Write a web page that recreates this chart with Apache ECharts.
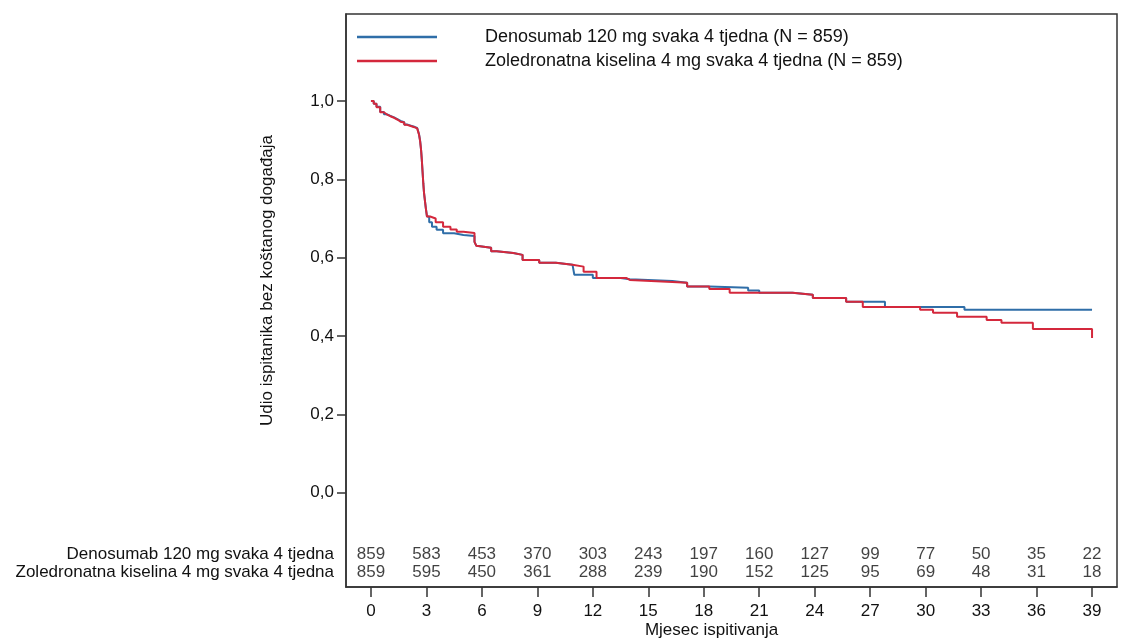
<!DOCTYPE html>
<html>
<head>
<meta charset="utf-8">
<script src="https://cdn.jsdelivr.net/npm/echarts@6/dist/echarts.min.js"></script>
<style>
  html, body { margin: 0; padding: 0; background: #fff; }
  #app { width: 1122px; height: 639px; }
</style>
</head>
<body>
<div id="app"></div>
<script>
const app = document.getElementById('app')
const chart = echarts.init(app)

// Kaplan-Meier curves (months, proportion without skeletal event)
const denoMonths = [0, 0.15, 0.3, 0.5, 0.7, 0.85, 1.05, 1.25, 1.45, 1.6, 1.8, 1.95, 2.15, 2.35, 2.5, 2.6, 2.66, 2.71, 2.75, 2.79, 2.83, 2.87, 2.92, 2.97, 3.03, 3.15, 3.3, 3.55, 3.9, 4.5, 5.0, 5.6, 5.7, 5.8, 6.5, 6.8, 7.7, 8.2, 9.1, 10.0, 10.9, 11.0, 12.0, 13.5, 14.0, 16.3, 17.1, 18.3, 20.4, 21.0, 22.8, 23.9, 25.7, 27.8, 32.1, 39.0]
const denoSurv = [1.0, 0.993, 0.985, 0.972, 0.966, 0.962, 0.958, 0.953, 0.949, 0.946, 0.940, 0.937, 0.934, 0.931, 0.928, 0.915, 0.898, 0.875, 0.85, 0.82, 0.79, 0.765, 0.745, 0.725, 0.705, 0.690, 0.679, 0.671, 0.662, 0.658, 0.655, 0.640, 0.630, 0.625, 0.616, 0.612, 0.607, 0.594, 0.587, 0.582, 0.577, 0.556, 0.548, 0.545, 0.540, 0.536, 0.526, 0.523, 0.516, 0.510, 0.505, 0.497, 0.487, 0.474, 0.467, 0.467]

const zolMonths = [0, 0.15, 0.3, 0.5, 0.7, 0.85, 1.05, 1.25, 1.45, 1.6, 1.8, 1.95, 2.15, 2.35, 2.5, 2.6, 2.66, 2.71, 2.75, 2.79, 2.83, 2.87, 2.92, 2.97, 3.03, 3.2, 3.5, 3.9, 4.3, 4.64, 5.0, 5.6, 5.7, 5.8, 6.5, 6.8, 7.7, 8.2, 9.1, 10.0, 10.9, 11.5, 12.2, 13.8, 14.0, 16.3, 17.1, 18.3, 19.4, 22.8, 23.9, 25.7, 26.6, 29.7, 30.4, 31.7, 33.3, 34.1, 35.8, 39.0]
const zolSurv = [1.0, 0.993, 0.984, 0.971, 0.966, 0.961, 0.957, 0.952, 0.947, 0.945, 0.939, 0.936, 0.933, 0.930, 0.927, 0.914, 0.897, 0.875, 0.85, 0.82, 0.79, 0.765, 0.745, 0.725, 0.705, 0.700, 0.690, 0.679, 0.672, 0.666, 0.663, 0.640, 0.630, 0.625, 0.616, 0.612, 0.607, 0.594, 0.587, 0.582, 0.577, 0.564, 0.548, 0.543, 0.538, 0.536, 0.526, 0.520, 0.510, 0.505, 0.497, 0.487, 0.474, 0.467, 0.459, 0.449, 0.441, 0.434, 0.418, 0.395]

// numbers at risk
const riskMonths = [0, 3, 6, 9, 12, 15, 18, 21, 24, 27, 30, 33, 36, 39]
const denoRisk = [859, 583, 453, 370, 303, 243, 197, 160, 127, 99, 77, 50, 35, 22]
const zolRisk = [859, 595, 450, 361, 288, 239, 190, 152, 125, 95, 69, 48, 31, 18]

const yTicks = [0, 0.2, 0.4, 0.6, 0.8, 1.0]
const armNames = ['Denosumab 120 mg svaka 4 tjedna', 'Zoledronatna kiselina 4 mg svaka 4 tjedna']
const legendNames = ['Denosumab 120 mg svaka 4 tjedna (N = 859)', 'Zoledronatna kiselina 4 mg svaka 4 tjedna (N = 859)']

// rows of the at-risk table sit below 0 on the y scale
const riskRowY = [-0.1565, -0.2025]

const font = "'Liberation Sans', Arial, sans-serif"
const blue = '#2f6ea8'
const red = '#d4283c'

const pairs = (xs, ys) => xs.map((x, i) => [x, ys[i]])

const riskSeries = (rowY, counts) => ({
  type: 'scatter',
  symbolSize: 2,
  itemStyle: { color: 'rgba(0,0,0,0)' },
  silent: true,
  clip: false,
  label: {
    show: true,
    position: 'inside',
    fontSize: 17,
    color: '#111',
    formatter: (p) => String(p.value[2])
  },
  data: riskMonths.map((m, i) => [m, rowY, counts[i]])
})

chart.setOption({
  animation: false,
  textStyle: { fontFamily: font },
  grid: {
    left: 346,
    right: 5,
    top: 14,
    bottom: 52,
    containLabel: false,
    outerBoundsMode: 'none',
    show: true,
    borderColor: '#333',
    borderWidth: 1.5
  },
  legend: {
    orient: 'vertical',
    left: 352,
    top: 23,
    icon: 'rect',
    itemWidth: 80,
    itemHeight: 2.5,
    itemGap: 6,
    data: legendNames,
    textStyle: {
      fontSize: 18,
      color: '#111',
      fontFamily: font,
      padding: [0, 0, 0, 43]
    }
  },
  xAxis: {
    type: 'value',
    min: -1.35,
    max: 40.35,
    name: 'Mjesec ispitivanja',
    nameLocation: 'middle',
    nameGap: 35,
    nameMoveOverlap: false,
    nameTextStyle: {
      fontSize: 17,
      color: '#111',
      padding: [0, 40, 0, 0]
    },
    splitLine: { show: false },
    axisLine: { onZero: false, lineStyle: { color: '#333', width: 1.5 } },
    axisTick: {
      customValues: riskMonths,
      length: 10,
      lineStyle: { color: '#333', width: 1.5 }
    },
    axisLabel: {
      customValues: riskMonths,
      margin: 16,
      fontSize: 17,
      color: '#111'
    }
  },
  yAxis: {
    type: 'value',
    min: -0.241,
    max: 1.222,
    name: 'Udio ispitanika bez koštanog događaja',
    nameLocation: 'middle',
    nameGap: 70,
    nameMoveOverlap: false,
    nameTextStyle: {
      fontSize: 17,
      color: '#111',
      padding: [0, 0, 0, 40]
    },
    splitLine: { show: false },
    axisLine: { onZero: false, lineStyle: { color: '#333', width: 1.5 } },
    axisTick: {
      customValues: yTicks,
      length: 9,
      lineStyle: { color: '#333', width: 1.5 }
    },
    axisLabel: {
      customValues: yTicks.concat(riskRowY),
      margin: 12,
      fontSize: 17,
      color: '#111',
      formatter(v) {
        if (v < -0.18) return armNames[1]
        if (v < -0.1) return armNames[0]
        return v.toFixed(1).replace('.', ',')
      }
    }
  },
  series: [
    {
      name: legendNames[0],
      type: 'line',
      step: 'end',
      symbol: 'none',
      color: blue,
      lineStyle: { width: 2, color: blue },
      data: pairs(denoMonths, denoSurv)
    },
    {
      name: legendNames[1],
      type: 'line',
      step: 'end',
      symbol: 'none',
      color: red,
      lineStyle: { width: 2, color: red },
      data: pairs(zolMonths, zolSurv)
    },
    riskSeries(riskRowY[0], denoRisk),
    riskSeries(riskRowY[1], zolRisk)
  ]
})
</script>
</body>
</html>
